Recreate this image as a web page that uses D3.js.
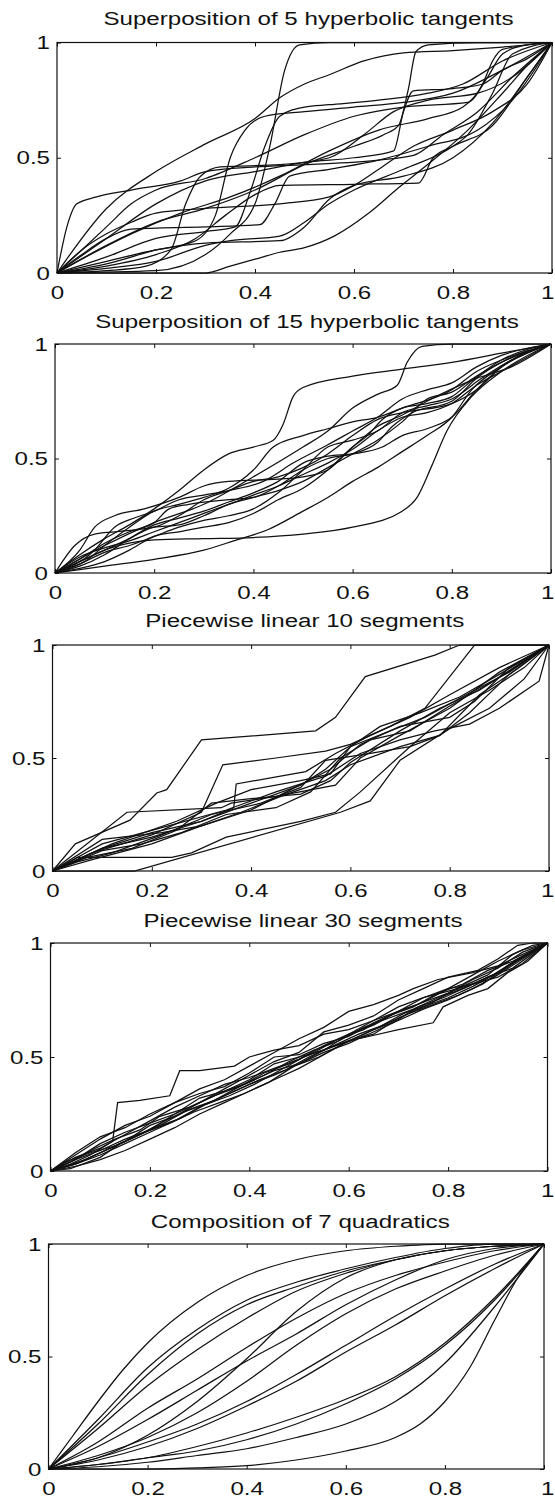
<!DOCTYPE html>
<html>
<head>
<meta charset="utf-8">
<script src="https://cdn.jsdelivr.net/npm/d3@7"></script>
<style>
  body { margin: 0; background: #fff; }
  svg { display: block; }
  text { font-family: "Liberation Sans", Arial, Helvetica, sans-serif; fill: #111; }
</style>
</head>
<body>
<script>
// titles and ticks
var titles = ["Superposition of 5 hyperbolic tangents",
              "Superposition of 15 hyperbolic tangents",
              "Piecewise linear 10 segments",
              "Piecewise linear 30 segments",
              "Composition of 7 quadratics"];
var xTicks = [0, 0.2, 0.4, 0.6, 0.8, 1];
var yTicks = [0, 0.5, 1];

// curves, [x, y] knots
var tanh5 = [
  [[0,0],[0.02,0.2],[0.04,0.3],[0.08,0.33],[0.15,0.36],[0.25,0.4],[0.3,0.44],[0.4,0.46],[0.5,0.47],[0.65,0.49],[0.72,0.51],[0.78,0.6],[0.85,0.7],[0.92,0.85],[1,1]],
  [[0,0],[0.1,0.28],[0.2,0.44],[0.3,0.56],[0.4,0.67],[0.45,0.76],[0.5,0.82],[0.55,0.86],[0.62,0.92],[0.7,0.955],[0.8,0.965],[0.9,0.98],[1,1]],
  [[0,0],[0.2,0.01],[0.3,0.08],[0.35,0.17],[0.4,0.3],[0.43,0.55],[0.46,0.88],[0.49,0.99],[0.55,1],[1,1]],
  [[0,0],[0.1,0.12],[0.2,0.22],[0.3,0.28],[0.4,0.36],[0.5,0.47],[0.6,0.55],[0.66,0.6],[0.69,0.64],[0.71,0.8],[0.725,0.96],[0.75,0.99],[0.85,1],[1,1]],
  [[0,0],[0.1,0.03],[0.2,0.08],[0.28,0.15],[0.34,0.25],[0.4,0.34],[0.45,0.38],[0.6,0.385],[0.73,0.39],[0.76,0.5],[0.8,0.55],[0.88,0.64],[0.95,0.85],[1,1]],
  [[0,0],[0.3,0],[0.35,0.03],[0.4,0.06],[0.45,0.09],[0.5,0.11],[0.56,0.16],[0.63,0.26],[0.69,0.37],[0.76,0.49],[0.83,0.62],[0.9,0.78],[0.95,0.9],[1,1]],
  [[0,0],[0.1,0.05],[0.2,0.1],[0.3,0.13],[0.45,0.14],[0.5,0.2],[0.55,0.32],[0.6,0.38],[0.7,0.42],[0.8,0.5],[0.88,0.65],[0.95,0.85],[1,1]],
  [[0,0],[0.05,0.08],[0.1,0.15],[0.15,0.19],[0.3,0.2],[0.41,0.21],[0.44,0.3],[0.47,0.42],[0.55,0.45],[0.65,0.49],[0.75,0.55],[0.85,0.62],[0.92,0.75],[1,1]],
  [[0,0],[0.05,0.1],[0.1,0.17],[0.15,0.22],[0.2,0.26],[0.3,0.28],[0.45,0.3],[0.55,0.33],[0.6,0.38],[0.65,0.45],[0.72,0.55],[0.8,0.62],[0.88,0.7],[0.95,0.82],[1,1]],
  [[0,0],[0.1,0.01],[0.18,0.03],[0.23,0.1],[0.26,0.3],[0.29,0.42],[0.33,0.46],[0.45,0.47],[0.55,0.5],[0.62,0.6],[0.68,0.7],[0.75,0.75],[0.85,0.78],[0.92,0.85],[1,1]],
  [[0,0],[0.1,0.04],[0.2,0.1],[0.28,0.14],[0.32,0.25],[0.35,0.5],[0.38,0.62],[0.42,0.68],[0.5,0.7],[0.6,0.72],[0.7,0.74],[0.8,0.78],[0.9,0.88],[1,1]],
  [[0,0],[0.1,0.07],[0.2,0.15],[0.3,0.18],[0.36,0.2],[0.39,0.35],[0.42,0.55],[0.45,0.68],[0.5,0.72],[0.55,0.73],[0.65,0.75],[0.75,0.78],[0.82,0.82],[0.9,0.92],[1,1]],
  [[0,0],[0.1,0.2],[0.15,0.3],[0.2,0.36],[0.3,0.41],[0.4,0.5],[0.5,0.6],[0.6,0.68],[0.7,0.72],[0.83,0.74],[0.87,0.85],[0.9,0.95],[0.95,0.99],[1,1]],
  [[0,0],[0.1,0.15],[0.2,0.3],[0.3,0.4],[0.4,0.44],[0.5,0.48],[0.6,0.5],[0.68,0.53],[0.7,0.7],[0.72,0.79],[0.8,0.8],[0.86,0.82],[0.9,0.88],[0.95,0.93],[1,1]],
  [[0,0],[0.1,0.02],[0.2,0.05],[0.3,0.12],[0.35,0.14],[0.45,0.16],[0.5,0.22],[0.55,0.3],[0.6,0.36],[0.7,0.45],[0.8,0.55],[0.83,0.6],[0.88,0.78],[0.92,0.95],[1,1]],
  [[0,0],[0.05,0.06],[0.15,0.17],[0.25,0.26],[0.35,0.33],[0.45,0.42],[0.55,0.53],[0.65,0.62],[0.75,0.67],[0.82,0.72],[0.86,0.82],[0.88,0.92],[0.9,0.97],[1,1]]
];

var tanh15 = [
  [[0,0],[0.05,0.08],[0.1,0.15],[0.15,0.21],[0.2,0.28],[0.25,0.36],[0.3,0.45],[0.35,0.52],[0.4,0.55],[0.44,0.58],[0.46,0.65],[0.48,0.77],[0.5,0.81],[0.6,0.86],[0.7,0.89],[0.8,0.92],[0.9,0.96],[1,1]],
  [[0,0],[0.1,0.12],[0.2,0.22],[0.3,0.3],[0.4,0.42],[0.5,0.55],[0.55,0.62],[0.6,0.72],[0.65,0.78],[0.69,0.82],[0.71,0.92],[0.74,0.99],[0.8,1],[1,1]],
  [[0,0],[0.05,0.05],[0.1,0.1],[0.15,0.13],[0.2,0.145],[0.3,0.15],[0.4,0.155],[0.5,0.17],[0.6,0.2],[0.7,0.27],[0.73,0.33],[0.76,0.47],[0.79,0.62],[0.84,0.77],[0.9,0.88],[1,1]],
  [[0,0],[0.1,0.03],[0.2,0.06],[0.3,0.1],[0.36,0.14],[0.43,0.19],[0.5,0.27],[0.55,0.33],[0.6,0.4],[0.65,0.46],[0.7,0.53],[0.75,0.6],[0.8,0.68],[0.84,0.8],[0.9,0.9],[1,1]],
  [[0,0],[0.04,0.12],[0.08,0.17],[0.12,0.18],[0.2,0.2],[0.25,0.25],[0.3,0.32],[0.35,0.36],[0.4,0.4],[0.45,0.42],[0.5,0.46],[0.55,0.52],[0.6,0.6],[0.65,0.67],[0.7,0.7],[0.8,0.74],[0.85,0.8],[0.9,0.9],[1,1]],
  [[0,0],[0.05,0.1],[0.08,0.2],[0.12,0.25],[0.18,0.28],[0.25,0.33],[0.3,0.38],[0.35,0.4],[0.45,0.41],[0.5,0.42],[0.55,0.45],[0.6,0.55],[0.65,0.64],[0.7,0.69],[0.75,0.75],[0.85,0.85],[0.92,0.9],[1,1]],
  [[0,0],[0.05,0.06],[0.1,0.13],[0.15,0.18],[0.2,0.22],[0.23,0.28],[0.27,0.3],[0.35,0.32],[0.4,0.33],[0.45,0.38],[0.5,0.45],[0.55,0.5],[0.6,0.52],[0.65,0.57],[0.68,0.64],[0.72,0.7],[0.8,0.75],[0.85,0.85],[0.9,0.92],[1,1]],
  [[0,0],[0.05,0.04],[0.1,0.09],[0.15,0.12],[0.2,0.16],[0.25,0.2],[0.3,0.23],[0.35,0.25],[0.4,0.28],[0.45,0.35],[0.5,0.45],[0.55,0.55],[0.6,0.58],[0.65,0.62],[0.7,0.7],[0.75,0.73],[0.8,0.76],[0.86,0.85],[0.92,0.93],[1,1]],
  [[0,0],[0.05,0.05],[0.1,0.1],[0.15,0.15],[0.2,0.2],[0.25,0.21],[0.3,0.25],[0.35,0.3],[0.4,0.33],[0.45,0.36],[0.5,0.4],[0.55,0.46],[0.6,0.52],[0.65,0.58],[0.7,0.66],[0.75,0.76],[0.8,0.79],[0.85,0.86],[0.9,0.92],[1,1]],
  [[0,0],[0.06,0.05],[0.1,0.12],[0.15,0.2],[0.2,0.27],[0.25,0.3],[0.3,0.33],[0.35,0.37],[0.4,0.45],[0.44,0.55],[0.5,0.6],[0.55,0.63],[0.6,0.66],[0.65,0.68],[0.7,0.72],[0.8,0.8],[0.85,0.88],[0.9,0.93],[1,1]],
  [[0,0],[0.05,0.07],[0.1,0.11],[0.15,0.14],[0.2,0.18],[0.25,0.22],[0.3,0.26],[0.35,0.3],[0.4,0.34],[0.45,0.38],[0.5,0.43],[0.55,0.48],[0.6,0.54],[0.65,0.62],[0.7,0.68],[0.75,0.7],[0.8,0.74],[0.85,0.82],[0.9,0.88],[1,1]],
  [[0,0],[0.05,0.03],[0.1,0.08],[0.15,0.15],[0.2,0.21],[0.25,0.24],[0.3,0.27],[0.35,0.31],[0.4,0.35],[0.45,0.4],[0.5,0.48],[0.55,0.51],[0.6,0.52],[0.66,0.55],[0.7,0.6],[0.75,0.63],[0.8,0.68],[0.85,0.8],[0.9,0.9],[1,1]],
  [[0,0],[0.05,0.02],[0.1,0.05],[0.15,0.1],[0.2,0.16],[0.25,0.18],[0.3,0.2],[0.35,0.22],[0.4,0.26],[0.45,0.32],[0.5,0.37],[0.55,0.45],[0.6,0.55],[0.63,0.6],[0.66,0.67],[0.7,0.72],[0.75,0.74],[0.8,0.77],[0.84,0.84],[0.9,0.93],[1,1]],
  [[0,0],[0.08,0.1],[0.12,0.2],[0.16,0.24],[0.2,0.27],[0.25,0.32],[0.3,0.34],[0.35,0.36],[0.42,0.4],[0.48,0.48],[0.55,0.56],[0.6,0.62],[0.65,0.68],[0.7,0.76],[0.75,0.8],[0.8,0.83],[0.85,0.9],[0.9,0.95],[1,1]]
];

var linear10 = [
  [[0,0],[0.046,0.12],[0.156,0.225],[0.21,0.345],[0.23,0.36],[0.3,0.58],[0.53,0.62],[0.57,0.68],[0.63,0.86],[0.77,0.955],[0.82,1],[1,1]],
  [[0,0],[0.15,0.26],[0.34,0.28],[0.36,0.3],[0.45,0.33],[0.57,0.38],[0.62,0.5],[0.7,0.6],[0.8,0.72],[0.9,0.88],[1,1]],
  [[0,0],[0.1,0.1],[0.2,0.15],[0.3,0.22],[0.365,0.28],[0.37,0.385],[0.51,0.44],[0.57,0.52],[0.64,0.6],[0.72,0.68],[0.8,0.78],[0.9,0.9],[1,1]],
  [[0,0],[0.165,0],[0.58,0.26],[0.64,0.31],[0.7,0.49],[0.8,0.63],[0.88,0.72],[0.95,0.85],[1,1]],
  [[0,0],[0.05,0.06],[0.24,0.06],[0.28,0.08],[0.35,0.15],[0.5,0.22],[0.57,0.26],[0.62,0.35],[0.72,0.55],[0.8,0.7],[0.88,0.8],[0.95,0.9],[1,1]],
  [[0,0],[0.1,0.12],[0.2,0.18],[0.35,0.27],[0.45,0.35],[0.55,0.42],[0.62,0.52],[0.7,0.58],[0.77,0.62],[0.84,0.65],[0.9,0.72],[0.98,0.84],[1,1]],
  [[0,0],[0.08,0.08],[0.2,0.16],[0.3,0.26],[0.343,0.47],[0.45,0.5],[0.55,0.53],[0.6,0.56],[0.68,0.64],[0.75,0.72],[0.85,1],[1,1]],
  [[0,0],[0.1,0.1],[0.2,0.17],[0.3,0.22],[0.4,0.3],[0.5,0.38],[0.55,0.45],[0.6,0.55],[0.68,0.62],[0.75,0.68],[0.85,0.8],[0.92,0.88],[1,1]],
  [[0,0],[0.12,0.12],[0.25,0.22],[0.33,0.3],[0.4,0.36],[0.5,0.4],[0.56,0.43],[0.6,0.55],[0.66,0.64],[0.74,0.7],[0.82,0.77],[0.9,0.87],[1,1]],
  [[0,0],[0.08,0.05],[0.2,0.12],[0.3,0.2],[0.38,0.26],[0.46,0.33],[0.55,0.4],[0.6,0.47],[0.7,0.55],[0.78,0.6],[0.84,0.7],[0.92,0.87],[1,1]],
  [[0,0],[0.1,0.09],[0.18,0.12],[0.26,0.17],[0.35,0.25],[0.45,0.28],[0.52,0.35],[0.58,0.5],[0.64,0.58],[0.72,0.62],[0.8,0.73],[0.88,0.83],[1,1]],
  [[0,0],[0.07,0.06],[0.16,0.1],[0.25,0.18],[0.32,0.3],[0.4,0.32],[0.5,0.34],[0.56,0.4],[0.6,0.48],[0.7,0.62],[0.78,0.72],[0.86,0.8],[0.93,0.9],[1,1]],
  [[0,0],[0.1,0.14],[0.22,0.17],[0.3,0.2],[0.4,0.27],[0.48,0.36],[0.56,0.45],[0.62,0.56],[0.7,0.64],[0.8,0.68],[0.85,0.75],[0.92,0.9],[1,1]],
  [[0,0],[0.05,0.04],[0.12,0.08],[0.22,0.16],[0.32,0.25],[0.42,0.3],[0.5,0.37],[0.55,0.49],[0.64,0.52],[0.72,0.55],[0.78,0.6],[0.86,0.78],[0.94,0.9],[1,1]]
];

var linear30 = [
  [[0,0],[0.04,0.03],[0.08,0.07],[0.125,0.13],[0.135,0.3],[0.18,0.31],[0.24,0.33],[0.26,0.44],[0.3,0.44],[0.37,0.46],[0.4,0.5],[0.45,0.53],[0.5,0.55],[0.55,0.6],[0.6,0.62],[0.65,0.66],[0.7,0.72],[0.75,0.76],[0.82,0.8],[0.88,0.86],[0.93,0.95],[0.97,0.99],[1,1]],
  [[0,0],[0.05,0.07],[0.1,0.14],[0.15,0.2],[0.2,0.24],[0.25,0.3],[0.3,0.36],[0.35,0.4],[0.4,0.46],[0.45,0.52],[0.5,0.58],[0.55,0.63],[0.6,0.7],[0.65,0.73],[0.7,0.77],[0.73,0.8],[0.78,0.84],[0.85,0.87],[0.9,0.9],[0.95,0.95],[1,1]],
  [[0,0],[0.05,0.03],[0.1,0.07],[0.15,0.12],[0.2,0.17],[0.25,0.22],[0.3,0.28],[0.35,0.33],[0.4,0.38],[0.45,0.42],[0.5,0.47],[0.55,0.52],[0.6,0.56],[0.62,0.58],[0.7,0.62],[0.77,0.65],[0.79,0.72],[0.84,0.77],[0.88,0.8],[0.92,0.87],[0.96,0.92],[1,1]],
  [[0,0],[0.03,0.02],[0.07,0.05],[0.12,0.1],[0.17,0.15],[0.22,0.2],[0.27,0.26],[0.32,0.3],[0.37,0.35],[0.42,0.4],[0.47,0.44],[0.52,0.5],[0.57,0.55],[0.62,0.6],[0.67,0.64],[0.72,0.69],[0.77,0.73],[0.82,0.77],[0.87,0.82],[0.92,0.9],[0.96,0.95],[1,1]],
  [[0,0],[0.04,0.04],[0.09,0.1],[0.13,0.14],[0.18,0.18],[0.22,0.24],[0.28,0.28],[0.33,0.33],[0.38,0.37],[0.43,0.43],[0.48,0.47],[0.53,0.52],[0.58,0.58],[0.63,0.62],[0.68,0.68],[0.73,0.72],[0.78,0.78],[0.83,0.82],[0.88,0.88],[0.93,0.92],[1,1]],
  [[0,0],[0.05,0.05],[0.1,0.12],[0.15,0.17],[0.2,0.21],[0.25,0.25],[0.3,0.3],[0.35,0.36],[0.4,0.42],[0.45,0.48],[0.5,0.52],[0.55,0.61],[0.6,0.64],[0.65,0.68],[0.7,0.75],[0.75,0.8],[0.8,0.85],[0.86,0.88],[0.9,0.93],[0.94,0.99],[0.97,1],[1,1]],
  [[0,0],[0.05,0.02],[0.1,0.05],[0.15,0.09],[0.2,0.14],[0.25,0.19],[0.3,0.25],[0.35,0.3],[0.4,0.35],[0.45,0.4],[0.5,0.45],[0.55,0.51],[0.6,0.57],[0.65,0.62],[0.7,0.66],[0.75,0.71],[0.8,0.75],[0.85,0.8],[0.9,0.86],[0.95,0.93],[1,1]],
  [[0,0],[0.05,0.06],[0.1,0.1],[0.15,0.16],[0.2,0.22],[0.25,0.28],[0.3,0.33],[0.35,0.38],[0.4,0.41],[0.45,0.45],[0.5,0.49],[0.55,0.55],[0.6,0.6],[0.65,0.64],[0.7,0.7],[0.75,0.74],[0.8,0.78],[0.85,0.84],[0.9,0.89],[0.95,0.96],[1,1]],
  [[0,0],[0.06,0.04],[0.11,0.09],[0.16,0.14],[0.21,0.19],[0.26,0.23],[0.31,0.29],[0.36,0.33],[0.41,0.38],[0.46,0.44],[0.51,0.5],[0.56,0.54],[0.61,0.58],[0.66,0.63],[0.71,0.69],[0.76,0.73],[0.81,0.79],[0.86,0.83],[0.91,0.88],[0.96,0.95],[1,1]],
  [[0,0],[0.03,0.04],[0.08,0.08],[0.13,0.11],[0.18,0.16],[0.23,0.22],[0.28,0.27],[0.33,0.31],[0.38,0.37],[0.43,0.42],[0.48,0.48],[0.53,0.53],[0.58,0.57],[0.63,0.63],[0.68,0.67],[0.73,0.71],[0.78,0.76],[0.83,0.8],[0.88,0.85],[0.93,0.89],[1,1]],
  [[0,0],[0.05,0.08],[0.1,0.15],[0.15,0.19],[0.2,0.25],[0.25,0.3],[0.3,0.34],[0.35,0.37],[0.4,0.43],[0.45,0.5],[0.5,0.51],[0.55,0.56],[0.6,0.59],[0.65,0.65],[0.7,0.7],[0.75,0.76],[0.8,0.8],[0.85,0.86],[0.9,0.92],[0.95,0.97],[1,1]],
  [[0,0],[0.05,0.03],[0.1,0.08],[0.15,0.13],[0.2,0.2],[0.25,0.24],[0.3,0.3],[0.35,0.35],[0.4,0.4],[0.45,0.47],[0.5,0.5],[0.55,0.53],[0.6,0.6],[0.65,0.66],[0.7,0.7],[0.75,0.74],[0.8,0.8],[0.85,0.82],[0.9,0.85],[0.95,0.91],[1,1]],
  [[0,0],[0.04,0.01],[0.1,0.06],[0.14,0.12],[0.19,0.17],[0.24,0.21],[0.29,0.26],[0.34,0.3],[0.39,0.34],[0.44,0.39],[0.49,0.46],[0.54,0.5],[0.59,0.56],[0.64,0.6],[0.69,0.65],[0.74,0.72],[0.79,0.76],[0.84,0.81],[0.89,0.86],[0.94,0.93],[1,1]],
  [[0,0],[0.05,0.05],[0.1,0.09],[0.15,0.14],[0.2,0.18],[0.25,0.25],[0.3,0.32],[0.35,0.35],[0.4,0.39],[0.45,0.44],[0.5,0.47],[0.55,0.53],[0.6,0.57],[0.65,0.6],[0.7,0.67],[0.75,0.72],[0.8,0.76],[0.85,0.81],[0.9,0.87],[0.95,0.94],[1,1]]
];

var quad7 = [
  [[0,0],[0.05,0.15],[0.1,0.3],[0.15,0.44],[0.2,0.56],[0.3,0.74],[0.4,0.86],[0.5,0.93],[0.6,0.97],[0.7,0.99],[0.8,1],[1,1]],
  [[0,0],[0.1,0.22],[0.2,0.45],[0.3,0.62],[0.4,0.75],[0.5,0.83],[0.6,0.89],[0.7,0.94],[0.8,0.98],[0.9,1],[1,1]],
  [[0,0],[0.1,0.2],[0.2,0.42],[0.3,0.6],[0.4,0.73],[0.5,0.81],[0.6,0.88],[0.7,0.93],[0.8,0.97],[0.9,0.99],[1,1]],
  [[0,0],[0.1,0.18],[0.2,0.37],[0.3,0.53],[0.4,0.67],[0.5,0.79],[0.6,0.87],[0.7,0.93],[0.8,0.97],[0.9,0.99],[1,1]],
  [[0,0],[0.1,0.12],[0.2,0.27],[0.3,0.4],[0.4,0.54],[0.5,0.67],[0.6,0.78],[0.7,0.86],[0.8,0.92],[0.9,0.97],[1,1]],
  [[0,0],[0.1,0.1],[0.2,0.22],[0.3,0.35],[0.4,0.48],[0.5,0.6],[0.6,0.73],[0.7,0.84],[0.8,0.93],[0.9,0.98],[1,1]],
  [[0,0],[0.1,0.05],[0.2,0.15],[0.3,0.3],[0.4,0.49],[0.5,0.7],[0.6,0.85],[0.7,0.93],[0.8,0.97],[0.9,0.99],[1,1]],
  [[0,0],[0.1,0.06],[0.2,0.14],[0.3,0.25],[0.4,0.39],[0.5,0.55],[0.6,0.69],[0.7,0.8],[0.8,0.88],[0.9,0.95],[1,1]],
  [[0,0],[0.1,0.04],[0.2,0.1],[0.3,0.18],[0.4,0.28],[0.5,0.39],[0.6,0.52],[0.7,0.64],[0.8,0.77],[0.9,0.89],[1,1]],
  [[0,0],[0.1,0.05],[0.2,0.12],[0.3,0.2],[0.4,0.3],[0.5,0.42],[0.6,0.55],[0.7,0.68],[0.8,0.8],[0.9,0.91],[1,1]],
  [[0,0],[0.1,0.02],[0.2,0.05],[0.3,0.1],[0.4,0.16],[0.5,0.23],[0.6,0.31],[0.7,0.41],[0.8,0.56],[0.9,0.76],[1,1]],
  [[0,0],[0.1,0.02],[0.2,0.05],[0.3,0.08],[0.4,0.13],[0.5,0.2],[0.6,0.29],[0.7,0.4],[0.8,0.55],[0.9,0.75],[1,1]],
  [[0,0],[0.1,0],[0.2,0],[0.3,0.005],[0.4,0.015],[0.5,0.04],[0.6,0.08],[0.7,0.14],[0.75,0.2],[0.8,0.3],[0.85,0.45],[0.9,0.66],[0.95,0.86],[1,1]],
  [[0,0],[0.1,0.01],[0.2,0.03],[0.3,0.06],[0.4,0.09],[0.5,0.14],[0.6,0.2],[0.7,0.3],[0.8,0.47],[0.9,0.72],[1,1]]
];

var panelCurves = [tanh5, tanh15, linear10, linear30, quad7];

// scan is a bit skewed, so each box has its own edges
var boxes = [
  {left: 57,   right: 552,   top: 42.5, bottom: 273,  titleY: 25},
  {left: 55,   right: 551,   top: 344,  bottom: 573,  titleY: 328},
  {left: 52.5, right: 549,   top: 645,  bottom: 871,  titleY: 627},
  {left: 50.5, right: 547.5, top: 943,  bottom: 1171, titleY: 927},
  {left: 48.5, right: 544,   top: 1244, bottom: 1469, titleY: 1228}
];
var smooth = [true, true, false, false, true];
var sx = 1.27;
var stretch = "scale(" + sx + ",1)";

var svg = d3.select("body").append("svg")
    .attr("width", 555)
    .attr("height", 1501);

boxes.forEach(function(b, i) {
  var x = d3.scaleLinear().domain([0, 1]).range([b.left, b.right]);
  var y = d3.scaleLinear().domain([0, 1]).range([b.bottom, b.top]);
  var g = svg.append("g");

  g.append("text")
    .attr("transform", "translate(" + ((b.left + b.right) / 2 + 4) + "," + b.titleY + ") " + stretch)
    .attr("text-anchor", "middle")
    .style("font-size", "19px")
    .text(titles[i]);

  var line = d3.line()
    .x(function(d) { return x(d[0]); })
    .y(function(d) { return y(d[1]); })
    .curve(smooth[i] ? d3.curveMonotoneX : d3.curveLinear);

  g.append("g").selectAll("path")
    .data(panelCurves[i])
    .enter().append("path")
    .attr("d", line)
    .attr("fill", "none")
    .attr("stroke", "#111")
    .attr("stroke-width", 1.25);

  var fmt = d3.format("");

  var bottomAx = g.append("g")
    .attr("transform", "translate(0," + b.bottom + ")")
    .call(d3.axisBottom(x).tickValues(xTicks).tickSize(-4).tickPadding(12.5).tickFormat(fmt));
  var topAx = g.append("g")
    .attr("transform", "translate(0," + b.top + ")")
    .call(d3.axisTop(x).tickValues(xTicks).tickSize(-4).tickFormat(""));
  var leftAx = g.append("g")
    .attr("transform", "translate(" + b.left + ",0)")
    .call(d3.axisLeft(y).tickValues(yTicks).tickSize(-4).tickPadding(5.5).tickFormat(fmt));
  var rightAx = g.append("g")
    .attr("transform", "translate(" + b.right + ",0)")
    .call(d3.axisRight(y).tickValues(yTicks).tickSize(-4).tickFormat(""));

  [bottomAx, topAx, leftAx, rightAx].forEach(function(a) {
    a.select(".domain").remove();
    a.selectAll("line").attr("stroke", "#111").attr("stroke-width", 1);
  });
  [bottomAx, leftAx].forEach(function(a) {
    a.selectAll("text")
      .style("font-size", "19px")
      .style("font-family", "Liberation Sans, Arial, sans-serif")
      .attr("fill", "#111")
      .attr("transform", stretch);
  });
  // last x label sits on the page edge, pull it inside
  bottomAx.selectAll(".tick text")
    .filter(function(d) { return d === 1; })
    .attr("text-anchor", "end")
    .attr("x", (554 - b.right) / sx);

  g.append("rect")
    .attr("x", b.left).attr("y", b.top)
    .attr("width", b.right - b.left).attr("height", b.bottom - b.top)
    .attr("fill", "none")
    .attr("stroke", "#111")
    .attr("stroke-width", 1.2);
});
</script>
</body>
</html>
